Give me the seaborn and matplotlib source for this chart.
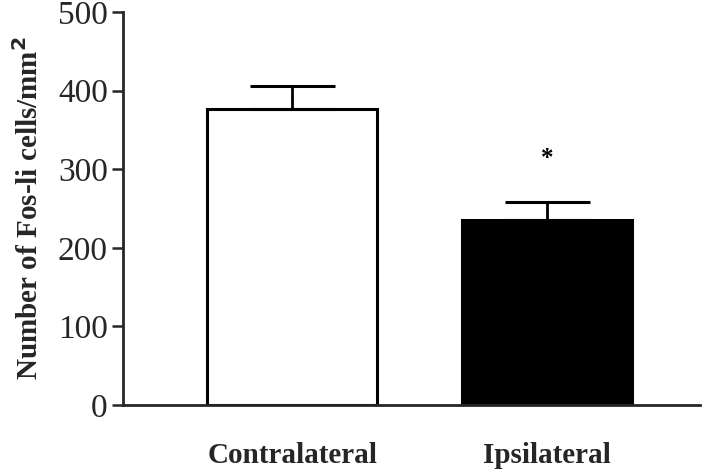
import matplotlib
matplotlib.use("Agg")
import matplotlib.pyplot as plt
import seaborn as sns
import pandas as pd
import numpy as np

categories = ["Contralateral", "Ipsilateral"]
means = [377, 235]
sem = [29, 23]
bar_colors = ["white", "black"]
yticks = [0, 100, 200, 300, 400, 500]

sns.set_style("ticks")
plt.rcParams["font.family"] = ["Liberation Serif", "DejaVu Serif"]

df = pd.DataFrame({"side": categories, "count": means})

fig = plt.figure(figsize=(7.2, 4.74), dpi=100)
ax = fig.add_axes([0.171, 0.1456, 0.801, 0.829])

sns.barplot(data=df, x="side", y="count", hue="side", palette=bar_colors,
            legend=False, width=0.667, edgecolor="black", linewidth=2.2,
            ax=ax, errorbar=None)

xpos = np.arange(len(categories))
ax.errorbar(xpos, means, yerr=[np.zeros(len(sem)), sem], fmt="none",
            ecolor="black", elinewidth=2, capsize=30.6, capthick=2.2, zorder=5)

ax.text(1, 314, "*", ha="center", va="center", fontsize=18,
        fontweight="bold", color="black")

ax.set_xlim(-0.663, 1.598)
ax.set_ylim(0, 500)
ax.set_yticks(yticks)
ax.set_yticklabels([str(t) for t in yticks], fontsize=24)
ax.set_xlabel("")
ax.set_ylabel("Number of Fos-li cells/mm$^{\\mathbf{2}}$", fontsize=21,
              fontweight="bold", labelpad=10)
ax.tick_params(axis="x", length=0, pad=27, labelsize=21)
for lab in ax.get_xticklabels():
    lab.set_fontweight("bold")
ax.tick_params(axis="y", length=8, width=1.8, pad=3)
sns.despine(ax=ax, top=True, right=True)
ax.spines["left"].set_linewidth(2)
ax.spines["bottom"].set_linewidth(2)

fig.savefig("out.png", dpi=100)
